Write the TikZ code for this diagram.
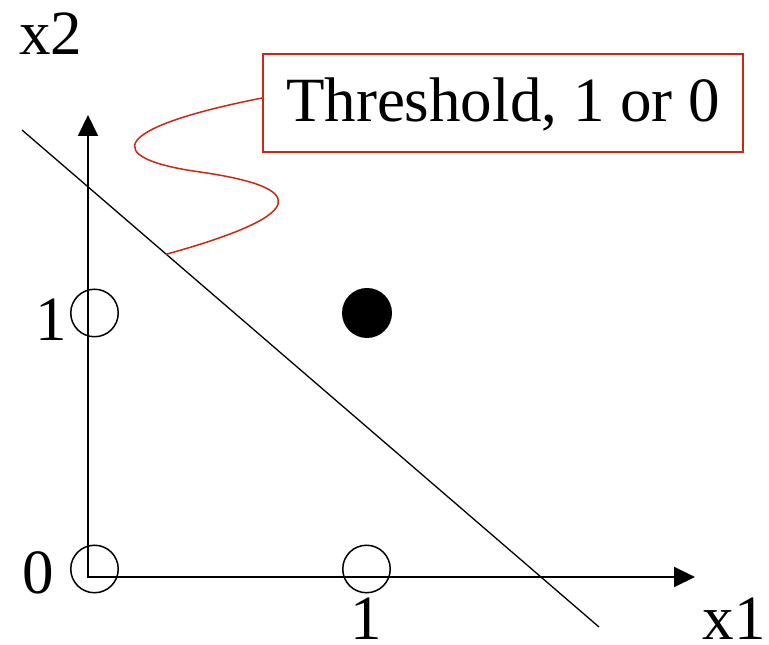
\documentclass[tikz,border=0pt]{standalone}
\usepackage{fontspec}
\setmainfont{Liberation Serif}
\usetikzlibrary{arrows.meta}
\definecolor{threshred}{RGB}{200,40,20}

\begin{document}
\begin{tikzpicture}[
  x=1pt, y=1pt,
  >={Triangle[length=21pt,width=20pt]},
  lbl/.style={font=\fontsize{63}{70}\selectfont, inner sep=0pt, text depth=0pt, anchor=base},
  hollow/.style={circle, draw, line width=1.5pt, minimum size=47.5pt, inner sep=0pt},
]
\useasboundingbox (0,0) rectangle (769,645);

% --- Axes ---
\coordinate (o) at (88,68);
\coordinate (xtip) at (695,68);
\coordinate (ytip) at (88,530);
\draw[<->, line width=2pt] (ytip) -- (o) -- (xtip);
\node[lbl] (lx1) at (734,5) {x1};
\node[lbl] (lx2) at (51,590) {x2};
\node[lbl] (lzero) at (38,51) {0};
\node[lbl] (lonex) at (366,5) {1};
\node[lbl] (loney) at (51,304) {1};

% --- Input points ---
\node[hollow] (p00) at (94.5,76) {};
\node[hollow] (p10) at (366.5,76) {};
\node[hollow] (p01) at (94.5,332) {};
\node[circle, fill, minimum size=50pt, inner sep=0pt] (p11) at (367,332) {};

% --- Separating line ---
\coordinate (s1) at (22,515);
\coordinate (s2) at (599,18);
\draw[line width=1.3pt] (s1) -- coordinate[pos=0.25] (hit) (s2);

% --- Threshold callout ---
\node[draw=threshred, line width=1.75pt, font=\fontsize{63}{70}\selectfont,
  text height=47pt, text depth=10pt, inner ysep=20.5pt,
  minimum width=480pt] (thr) at (503,542) {Threshold, 1 or 0};
\draw[threshred, line width=1.5pt] ([yshift=5pt]thr.west)
  .. controls (110,517) and (100,487) .. (200,473)
  .. controls (305,458) and (315,432) .. (hit);

\end{tikzpicture}
\end{document}
